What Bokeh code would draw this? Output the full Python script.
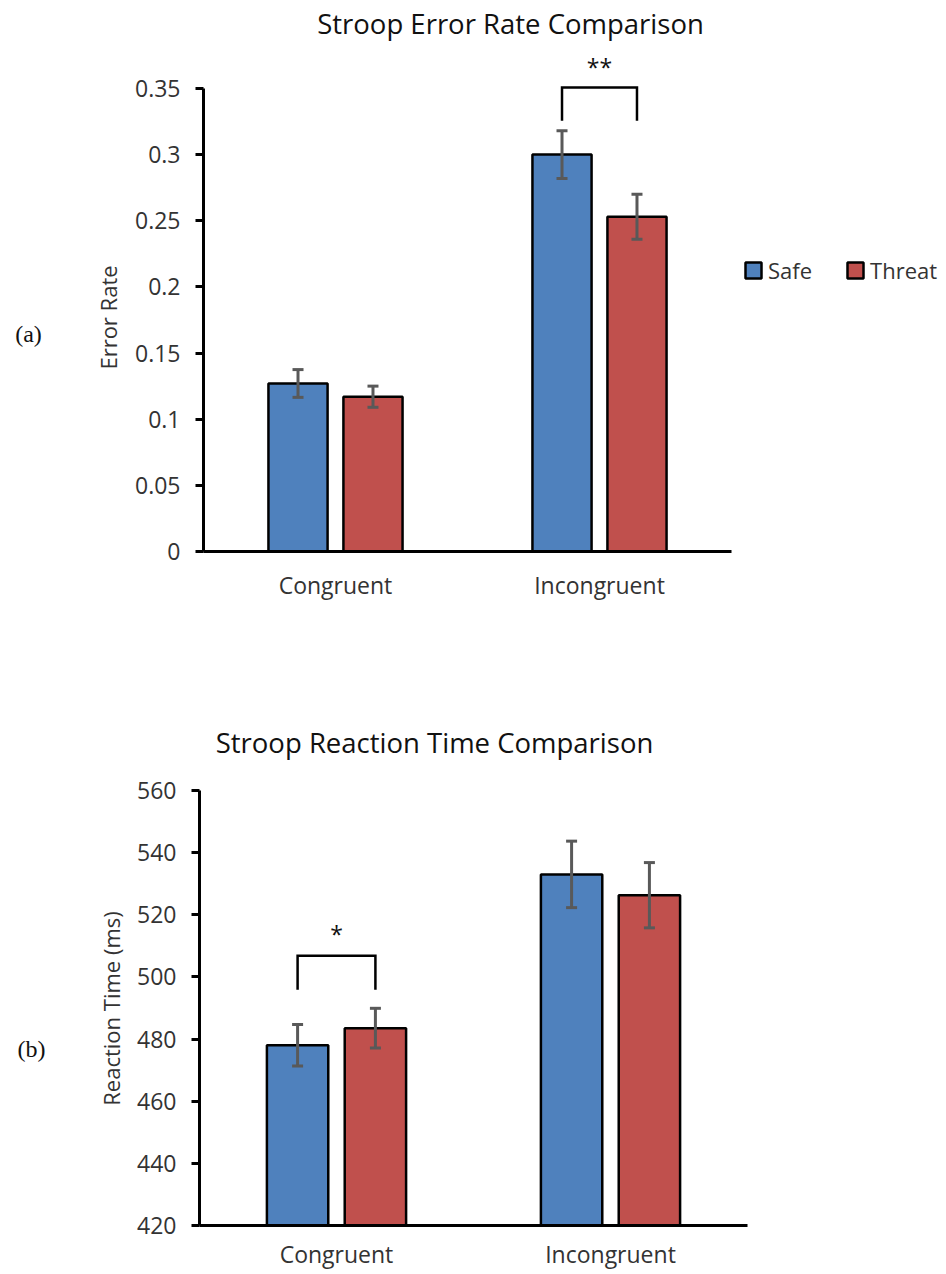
import math
from bokeh.plotting import figure
from bokeh.models import (Range1d, FixedTicker, Legend, LegendItem,
                          Whisker, TeeHead, ColumnDataSource)
from bokeh.layouts import column, row
from bokeh.embed import file_html
from bokeh.resources import INLINE
from bokeh.core.properties import value

# ---------------- data ----------------
categories = ["Congruent", "Incongruent"]
groups = ["Safe", "Threat"]

err_safe = [0.127, 0.300]
err_safe_se = [0.0105, 0.018]
err_threat = [0.117, 0.253]
err_threat_se = [0.008, 0.017]
err_ticks = [0, 0.05, 0.1, 0.15, 0.2, 0.25, 0.3, 0.35]
err_tick_labels = ["0", "0.05", "0.1", "0.15", "0.2", "0.25", "0.3", "0.35"]
err_sig_category = "Incongruent"
err_sig_bracket = [0.3255, 0.3507]   # bracket leg bottom, bracket top
err_sig_text = "**"
err_sig_text_y = 0.3660

rt_safe = [478.0, 533.0]
rt_safe_se = [6.7, 10.7]
rt_threat = [483.5, 526.3]
rt_threat_se = [6.4, 10.5]
rt_ticks = [420, 440, 460, 480, 500, 520, 540, 560]
rt_tick_labels = ["420", "440", "460", "480", "500", "520", "540", "560"]
rt_sig_category = "Congruent"
rt_sig_bracket = [495.9, 506.8]
rt_sig_text = "*"
rt_sig_text_y = 513.7

BLUE = "#4F81BD"
RED = "#C0504D"
ERR = "#595959"
FONT = "Open Sans"
TICK_COLOR = "#333333"
TITLE_COLOR = "#111111"

OFFSET = 0.142
BAR_W = 0.224
TAG_W = 125


def style_axes(p, ticks, tick_labels, y_bounds, x_standoff):
    p.outline_line_color = None
    p.xgrid.visible = False
    p.ygrid.visible = False
    for ax in (p.xaxis[0], p.yaxis[0]):
        ax.axis_line_color = "black"
        ax.axis_line_width = 3
        ax.minor_tick_line_color = None
        ax.major_label_text_font = FONT
        ax.major_label_text_font_size = "23px"
        ax.major_label_text_color = TICK_COLOR
    y = p.yaxis[0]
    y.ticker = FixedTicker(ticks=ticks)
    y.major_label_overrides = {t: l for t, l in zip(ticks, tick_labels)}
    y.major_tick_out = 8
    y.major_tick_in = 0
    y.major_tick_line_width = 3
    y.major_tick_line_color = "black"
    y.major_label_standoff = 15
    y.bounds = y_bounds
    x = p.xaxis[0]
    xpos = [i + 0.5 for i in range(len(categories))]
    x.ticker = FixedTicker(ticks=xpos)
    x.major_label_overrides = {xp: c for xp, c in zip(xpos, categories)}
    x.major_tick_line_color = None
    x.major_tick_out = 0
    x.major_tick_in = 0
    x.major_label_standoff = x_standoff
    x.bounds = (0, len(categories))


def add_bars(p, safe, safe_se, threat, threat_se, bottom):
    xpos = [i + 0.5 for i in range(len(categories))]
    renderers = []
    for vals, ses, sign, color in ((safe, safe_se, -1, BLUE), (threat, threat_se, 1, RED)):
        xs = [x + sign * OFFSET for x in xpos]
        src = ColumnDataSource(dict(
            x=xs, top=vals,
            upper=[v + s for v, s in zip(vals, ses)],
            lower=[v - s for v, s in zip(vals, ses)]))
        r = p.vbar(x="x", top="top", bottom=bottom, width=BAR_W, source=src,
                   fill_color=color, line_color="black", line_width=2.5)
        renderers.append(r)
        w = Whisker(source=src, base="x", upper="upper", lower="lower",
                    line_color=ERR, line_width=3, level="overlay",
                    upper_head=TeeHead(size=11, line_color=ERR, line_width=3),
                    lower_head=TeeHead(size=11, line_color=ERR, line_width=3))
        p.add_layout(w)
    return renderers


def add_sig(p, cat, bracket, text, text_y):
    cx = categories.index(cat) + 0.5
    x1, x2 = cx - OFFSET, cx + OFFSET
    lo, hi = bracket
    p.multi_line(xs=[[x1, x1, x2, x2]], ys=[[lo, hi, hi, lo]],
                 line_color="black", line_width=2.5, line_join="miter")
    p.text(x=[cx], y=[text_y], text=[text], text_align="center",
           text_baseline="alphabetic", text_font=value(FONT),
           text_font_size="23px", text_color="#111111")


def add_title(p, text, x, y):
    p.text(x=[x], y=[y], text=[text], text_align="center",
           text_baseline="alphabetic", text_font=value(FONT),
           text_font_size="27.5px", text_color=TITLE_COLOR)


def tag_figure(height, frame_bottom, axis_text, axis_x, axis_y, tag_text, tag_x, tag_y):
    """Left strip holding the y-axis title and the panel tag.
    Its frame matches the neighbouring chart's frame (rows align frames);
    positions are pixels from the strip's top-left corner."""
    bottom_border = height - frame_bottom
    t = figure(width=TAG_W, height=height, title=None,
               x_range=Range1d(0, TAG_W), y_range=Range1d(bottom_border, height),
               x_axis_type=None, y_axis_type=None, output_backend="svg",
               toolbar_location=None, min_border_left=0, min_border_right=0,
               min_border_top=0, min_border_bottom=bottom_border)
    t.outline_line_color = None
    t.xgrid.visible = False
    t.ygrid.visible = False
    t.text(x=[axis_x], y=[height - axis_y], text=[axis_text], angle=math.pi / 2,
           text_align="center", text_baseline="middle",
           text_font=value(FONT), text_font_size="22px", text_color=TICK_COLOR)
    t.text(x=[tag_x], y=[height - tag_y], text=[tag_text], text_align="center",
           text_baseline="middle", text_font=value("Liberation Serif"),
           text_font_size="24px", text_color="#111111")
    return t


# ---------------- top chart ----------------
H1 = 660
sx1 = 264.0     # px per category
sy1 = 1323.0    # px per unit
p1 = figure(width=946 - TAG_W, height=H1, title=None,
            x_range=Range1d(0, (946 - 203) / sx1), y_range=Range1d(0, 551 / sy1),
            output_backend="svg", toolbar_location=None,
            min_border_left=203 - TAG_W, min_border_right=0,
            min_border_top=0, min_border_bottom=H1 - 551)
style_axes(p1, err_ticks, err_tick_labels, (0, 0.35), 17)
r_safe, r_threat = add_bars(p1, err_safe, err_safe_se, err_threat, err_threat_se, 0)
add_sig(p1, err_sig_category, err_sig_bracket, err_sig_text, err_sig_text_y)
add_title(p1, "Stroop Error Rate Comparison", (510 - 203) / sx1, (551 - 22.5) / sy1)

legend = Legend(items=[LegendItem(label=groups[0], renderers=[r_safe]),
                       LegendItem(label=groups[1], renderers=[r_threat])],
                orientation="horizontal", location=(540, 266),
                glyph_width=20, glyph_height=20, label_standoff=5, spacing=33,
                padding=0, margin=0, border_line_color=None,
                background_fill_alpha=0, label_text_font=FONT,
                label_text_font_size="22px", label_text_color=TICK_COLOR)
p1.add_layout(legend)

t1 = tag_figure(H1, 551, "Error Rate", 107, 317, "(a)", 28, 333)

# ---------------- bottom chart ----------------
H2 = 1274 - H1
top2 = H1              # page y of bottom figure
sx2 = 274.0
sy2 = 435.0 / 140.0
p2 = figure(width=946 - TAG_W, height=H2, title=None,
            x_range=Range1d(0, (946 - 199) / sx2),
            y_range=Range1d(420, 420 + (1225 - top2) / sy2),
            output_backend="svg", toolbar_location=None,
            min_border_left=199 - TAG_W, min_border_right=0,
            min_border_top=0, min_border_bottom=1274 - 1225)
style_axes(p2, rt_ticks, rt_tick_labels, (420, 560), 12)
add_bars(p2, rt_safe, rt_safe_se, rt_threat, rt_threat_se, 420)
add_sig(p2, rt_sig_category, rt_sig_bracket, rt_sig_text, rt_sig_text_y)
add_title(p2, "Stroop Reaction Time Comparison", (434 - 199) / sx2,
          420 + (1225 - 741.5) / sy2)

t2 = tag_figure(H2, 1225 - top2, "Reaction Time (ms)", 110, 1008 - top2,
                "(b)", 31, 1048 - top2)

layout = column(row(t1, p1, spacing=0), row(t2, p2, spacing=0), spacing=0)
open("out.html", "w").write(file_html(layout, INLINE))
